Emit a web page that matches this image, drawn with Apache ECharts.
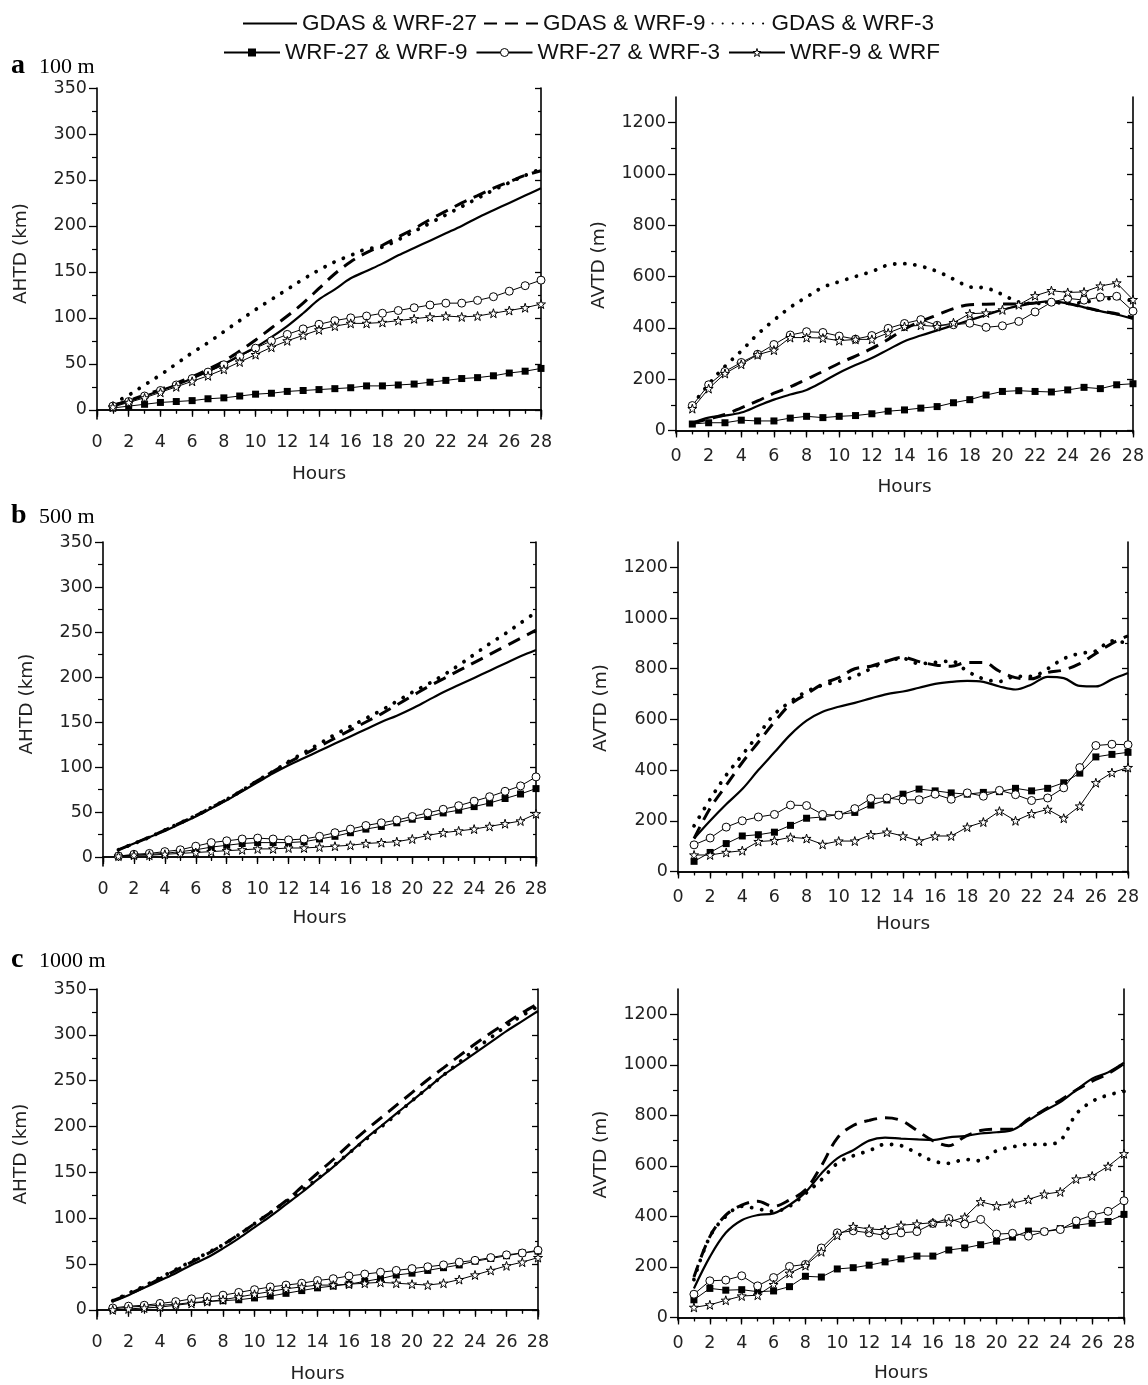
<!DOCTYPE html>
<html>
<head>
<meta charset="utf-8">
<script src="https://cdn.jsdelivr.net/npm/echarts@6/dist/echarts.min.js"></script>
<style>
    html, body {margin: 0; padding: 0; background: #fff;}
    #main {width: 1148px; height: 1385px;}
</style>
</head>
<body>
<div id="main"></div>
<script>
    const hours = [1, 2, 3, 4, 5, 6, 7, 8, 9, 10, 11, 12, 13, 14, 15, 16, 17, 18, 19, 20, 21, 22, 23, 24, 25, 26, 27, 28];
    const names = ['GDAS & WRF-27', 'GDAS & WRF-9', 'GDAS & WRF-3', 'WRF-27 & WRF-9', 'WRF-27 & WRF-3', 'WRF-9 & WRF'];

    // a 100 m - AHTD (km)
    const ahtd100_g27 = [5, 10, 15, 21, 27, 34, 42, 50, 59, 68, 79, 91, 105, 120, 131, 143, 151, 159, 168, 176, 184, 192, 200, 209, 217, 225, 233, 241];
    const ahtd100_g9 = [5, 10, 16, 22, 29, 36, 44, 53, 64, 76, 89, 102, 116, 132, 148, 161, 171, 179, 188, 197, 207, 216, 225, 233, 241, 248, 255, 260];
    const ahtd100_g3 = [7, 16, 27, 38, 50, 62, 73, 85, 97, 109, 120, 131, 142, 152, 161, 168, 175, 177, 185, 194, 203, 212, 221, 230, 239, 247, 255, 262];
    const ahtd100_w27_9 = [2, 4, 6, 8, 9, 10, 12, 13, 15, 17, 18, 20, 21, 22, 23, 24, 26, 26, 27, 28, 30, 32, 34, 35, 37, 40, 42, 45];
    const ahtd100_w27_3 = [4, 9, 15, 21, 27, 34, 41, 49, 58, 67, 75, 82, 88, 93, 97, 100, 102, 105, 108, 111, 114, 116, 116, 119, 123, 129, 135, 141];
    const ahtd100_w9 = [3, 8, 13, 19, 25, 31, 37, 44, 52, 60, 68, 75, 81, 87, 91, 94, 94, 95, 97, 99, 101, 102, 101, 102, 105, 108, 111, 115];

    // a 100 m - AVTD (m)
    const avtd100_g27 = [30, 50, 58, 70, 95, 120, 140, 158, 190, 225, 255, 282, 315, 348, 370, 390, 410, 430, 450, 470, 485, 497, 503, 495, 480, 465, 452, 435];
    const avtd100_g9 = [28, 45, 62, 88, 115, 145, 170, 200, 230, 262, 290, 320, 355, 395, 425, 450, 475, 490, 492, 493, 493, 497, 500, 495, 480, 466, 455, 440];
    const avtd100_g3 = [100, 180, 250, 310, 375, 430, 480, 520, 558, 580, 600, 620, 645, 650, 640, 620, 590, 560, 555, 530, 500, 495, 500, 495, 500, 510, 515, 505];
    const avtd100_w27_9 = [25, 30, 30, 40, 37, 37, 48, 55, 50, 55, 58, 65, 75, 80, 87, 93, 108, 120, 138, 152, 155, 152, 150, 158, 168, 163, 178, 182];
    const avtd100_w27_3 = [97, 178, 230, 265, 297, 335, 372, 385, 382, 368, 356, 370, 398, 417, 432, 410, 412, 418, 402, 408, 425, 462, 500, 515, 508, 520, 523, 465];
    const avtd100_w9 = [85, 163, 222, 258, 295, 313, 362, 362, 360, 350, 355, 355, 380, 405, 410, 405, 420, 455, 458, 470, 490, 525, 545, 538, 540, 563, 575, 510];

    // b 500 m - AHTD (km)
    const ahtd500_g27 = [8, 15, 22, 29, 37, 45, 54, 63, 73, 83, 93, 102, 110, 118, 126, 134, 142, 150, 157, 165, 174, 183, 191, 199, 207, 215, 223, 230];
    const ahtd500_g9 = [8, 15, 22, 30, 38, 46, 55, 64, 74, 85, 95, 105, 114, 123, 132, 141, 150, 159, 169, 179, 189, 198, 207, 216, 225, 234, 243, 252];
    const ahtd500_g3 = [8, 15, 22, 30, 38, 46, 55, 64, 74, 85, 95, 106, 116, 126, 136, 145, 154, 163, 173, 183, 192, 202, 213, 225, 237, 248, 260, 272];
    const ahtd500_w27_9 = [1, 2, 3, 4, 6, 8, 11, 13, 15, 16, 16, 16, 17, 20, 23, 27, 31, 34, 38, 42, 45, 49, 52, 56, 60, 65, 70, 76];
    const ahtd500_w27_3 = [1, 3, 4, 6, 8, 12, 16, 18, 20, 21, 20, 19, 20, 23, 27, 31, 35, 38, 41, 45, 49, 53, 57, 62, 67, 73, 79, 89];
    const ahtd500_w9 = [1, 2, 2, 3, 4, 5, 6, 7, 8, 9, 9, 10, 10, 11, 12, 13, 15, 16, 17, 20, 24, 27, 29, 31, 34, 37, 40, 48];

    // b 500 m - AVTD (m)
    const avtd500_g27 = [130, 200, 265, 325, 400, 470, 540, 595, 630, 650, 665, 683, 700, 710, 725, 740, 748, 752, 748, 730, 718, 738, 768, 763, 732, 730, 758, 783];
    const avtd500_g9 = [130, 250, 340, 430, 510, 590, 660, 700, 740, 765, 800, 810, 830, 845, 828, 815, 810, 825, 825, 790, 765, 760, 785, 795, 820, 860, 900, 930];
    const avtd500_g3 = [180, 285, 380, 460, 540, 620, 670, 710, 735, 750, 770, 800, 830, 840, 820, 825, 830, 790, 760, 750, 770, 770, 800, 840, 860, 870, 910, 900];
    const avtd500_w27_9 = [40, 75, 110, 140, 145, 155, 182, 210, 215, 225, 233, 262, 282, 305, 325, 318, 310, 305, 312, 315, 328, 318, 328, 350, 388, 452, 462, 470];
    const avtd500_w27_3 = [105, 132, 175, 200, 215, 225, 262, 260, 225, 222, 248, 288, 290, 282, 283, 305, 285, 310, 297, 320, 303, 280, 290, 330, 410, 497, 502, 500];
    const avtd500_w9 = [65, 65, 75, 82, 118, 122, 135, 130, 107, 120, 120, 145, 155, 140, 120, 140, 140, 175, 195, 238, 200, 228, 245, 210, 258, 350, 390, 410];

    // c 1000 m - AHTD (km)
    const ahtd1000_g27 = [9, 16, 24, 32, 40, 49, 57, 67, 78, 90, 102, 115, 128, 142, 156, 171, 186, 200, 214, 228, 242, 256, 268, 280, 292, 304, 315, 326];
    const ahtd1000_g9 = [10, 17, 25, 34, 43, 52, 61, 71, 82, 94, 106, 119, 134, 149, 164, 180, 195, 209, 223, 237, 251, 264, 277, 290, 302, 313, 324, 334];
    const ahtd1000_g3 = [10, 18, 26, 35, 44, 53, 62, 71, 82, 94, 106, 118, 130, 143, 157, 171, 185, 199, 213, 228, 242, 256, 270, 284, 297, 310, 321, 331];
    const ahtd1000_w27_9 = [1, 3, 4, 5, 6, 8, 9, 10, 11, 13, 15, 18, 21, 24, 26, 28, 31, 34, 38, 40, 43, 46, 49, 53, 56, 59, 62, 64];
    const ahtd1000_w27_3 = [2, 4, 5, 7, 9, 12, 14, 16, 19, 22, 25, 27, 29, 32, 34, 37, 39, 41, 43, 45, 47, 49, 52, 54, 57, 60, 62, 65];
    const ahtd1000_w9 = [0, 1, 2, 3, 5, 7, 9, 11, 14, 17, 20, 23, 25, 27, 27, 28, 29, 30, 29, 28, 27, 29, 33, 38, 43, 48, 52, 57];

    // c 1000 m - AVTD (m)
    const avtd1000_g27 = [115, 240, 335, 385, 405, 412, 445, 495, 570, 630, 662, 700, 712, 708, 705, 702, 713, 718, 728, 733, 742, 780, 818, 852, 900, 945, 970, 1008];
    const avtd1000_g9 = [160, 320, 405, 445, 460, 440, 465, 505, 600, 710, 760, 780, 790, 780, 740, 700, 680, 715, 740, 745, 745, 785, 822, 860, 900, 935, 965, 1005];
    const avtd1000_g3 = [150, 320, 400, 440, 430, 420, 440, 490, 545, 610, 640, 660, 685, 680, 650, 620, 610, 625, 620, 660, 675, 685, 685, 700, 805, 855, 880, 895];
    const avtd1000_w27_9 = [70, 115, 108, 110, 102, 105, 122, 163, 160, 192, 197, 207, 220, 232, 243, 243, 267, 275, 288, 302, 318, 342, 340, 352, 365, 373, 380, 408];
    const avtd1000_w27_3 = [92, 145, 148, 165, 125, 158, 202, 210, 275, 335, 343, 335, 325, 335, 340, 372, 392, 370, 388, 330, 333, 322, 340, 348, 382, 405, 420, 462];
    const avtd1000_w9 = [40, 50, 68, 85, 88, 130, 175, 205, 260, 325, 360, 350, 347, 365, 370, 375, 378, 397, 458, 442, 452, 467, 488, 497, 548, 560, 598, 648];

    const ahtdTicks = [0, 50, 100, 150, 200, 250, 300, 350];
    const ahtdMinor = [25, 75, 125, 175, 225, 275, 325];
    const avtdTicks = [0, 200, 400, 600, 800, 1000, 1200];
    const avtdMinor = [100, 300, 500, 700, 900, 1100];

    const SANS = 'Liberation Sans, Arial, sans-serif';
    const WIDE = 'DejaVu Sans, Verdana, sans-serif';
    const SERIF = 'Liberation Serif, Times New Roman, serif';
    const INK = '#111';
    const STAR = 'path://M50,2 L61,36 L97,36 L68,57 L79,92 L50,71 L21,92 L32,57 L3,36 L39,36 Z';

    // 每个面板的布局
    const panels = [
        {grid: {left: 97, top: 88, width: 444, height: 331}, min: -10, max: 350, ticks: ahtdTicks, minor: ahtdMinor, yName: 'AHTD (km)', yGap: 66, xGap: 46,
            sets: [ahtd100_g27, ahtd100_g9, ahtd100_g3, ahtd100_w27_9, ahtd100_w27_3, ahtd100_w9]},
        {grid: {left: 676, top: 97, width: 457, height: 336}, min: -10, max: 1300, ticks: avtdTicks, minor: avtdMinor, yName: 'AVTD (m)', yGap: 67, xGap: 45,
            sets: [avtd100_g27, avtd100_g9, avtd100_g3, avtd100_w27_9, avtd100_w27_3, avtd100_w9]},
        {grid: {left: 103, top: 542, width: 433, height: 324}, min: -10, max: 350, ticks: ahtdTicks, minor: ahtdMinor, yName: 'AHTD (km)', yGap: 66, xGap: 43,
            sets: [ahtd500_g27, ahtd500_g9, ahtd500_g3, ahtd500_w27_9, ahtd500_w27_3, ahtd500_w9]},
        {grid: {left: 678, top: 542, width: 450, height: 332}, min: -10, max: 1300, ticks: avtdTicks, minor: avtdMinor, yName: 'AVTD (m)', yGap: 67, xGap: 41,
            sets: [avtd500_g27, avtd500_g9, avtd500_g3, avtd500_w27_9, avtd500_w27_3, avtd500_w9]},
        {grid: {left: 97, top: 989, width: 441, height: 331}, min: -10, max: 350, ticks: ahtdTicks, minor: ahtdMinor, yName: 'AHTD (km)', yGap: 66, xGap: 46,
            sets: [ahtd1000_g27, ahtd1000_g9, ahtd1000_g3, ahtd1000_w27_9, ahtd1000_w27_3, ahtd1000_w9]},
        {grid: {left: 678, top: 989, width: 446, height: 331}, min: -10, max: 1300, ticks: avtdTicks, minor: avtdMinor, yName: 'AVTD (m)', yGap: 67, xGap: 44,
            sets: [avtd1000_g27, avtd1000_g9, avtd1000_g3, avtd1000_w27_9, avtd1000_w27_3, avtd1000_w9]}
    ];

    const looks = [
        {lineStyle: {type: 'solid', width: 2.2}, symbol: 'none', smooth: 0.35},
        {lineStyle: {type: [13, 8], width: 3}, symbol: 'none', smooth: 0.35},
        {lineStyle: {type: [0.1, 10], width: 3.8, cap: 'round'}, symbol: 'none', smooth: 0.35},
        {lineStyle: {type: 'solid', width: 1}, symbol: 'rect', symbolSize: 7, itemStyle: {color: '#000'}},
        {lineStyle: {type: 'solid', width: 1}, symbol: 'circle', symbolSize: 8, itemStyle: {color: '#fff', borderColor: '#000', borderWidth: 1}},
        {lineStyle: {type: 'solid', width: 1}, symbol: STAR, symbolSize: 9, itemStyle: {color: '#fff', borderColor: '#000', borderWidth: 1}}
    ];

    const grid = [], xAxis = [], yAxis = [], series = [];
    const lineBase = {show: true, lineStyle: {color: '#000', width: 1.6}};
    const labelBase = {color: '#222', fontFamily: WIDE, fontSize: 17.5, formatter: v => String(v)};
    const nameBase = {color: '#222', fontFamily: WIDE, fontSize: 18.5};

    panels.forEach((p, i) => {
        grid.push(p.grid);
        // 底部 x 轴（刻度朝外）
        xAxis.push({
            gridIndex: i, type: 'value', min: 0, max: 28, interval: 2, position: 'bottom',
            axisLine: lineBase, splitLine: {show: false},
            axisTick: {inside: false, length: 7, lineStyle: {color: '#000', width: 1.3}},
            minorTick: {show: true, splitNumber: 2, length: 4, lineStyle: {color: '#000', width: 1.2}},
            axisLabel: Object.assign({margin: 14, showMinLabel: true, showMaxLabel: true}, labelBase),
            name: 'Hours', nameLocation: 'middle', nameGap: p.xGap, nameTextStyle: nameBase
        });
        // 顶部 x 轴（刻度朝内）
        xAxis.push({
            gridIndex: i, type: 'value', min: 0, max: 28, interval: 2, position: 'top',
            axisLine: lineBase, splitLine: {show: false}, axisLabel: {show: false},
            axisTick: {inside: true, length: 5, lineStyle: {color: '#000', width: 1.3}},
            minorTick: {show: true, splitNumber: 2, length: 3, lineStyle: {color: '#000', width: 1.2}}
        });
        const yCommon = {gridIndex: i, type: 'value', min: p.min, max: p.max, splitLine: {show: false}};
        yAxis.push(Object.assign({}, yCommon, {
            position: 'left', axisLine: lineBase,
            axisTick: {inside: false, length: 8, customValues: p.ticks, lineStyle: {color: '#000', width: 1.3}},
            axisLabel: Object.assign({margin: 10, customValues: p.ticks}, labelBase),
            name: p.yName, nameLocation: 'middle', nameGap: p.yGap, nameRotate: 90, nameTextStyle: nameBase
        }));
        yAxis.push(Object.assign({}, yCommon, {
            position: 'left', axisLine: {show: false}, axisLabel: {show: false},
            axisTick: {inside: false, length: 5, customValues: p.minor, lineStyle: {color: '#000', width: 1.2}}
        }));
        yAxis.push(Object.assign({}, yCommon, {
            position: 'right', axisLine: lineBase, axisLabel: {show: false},
            axisTick: {inside: true, length: 6, customValues: p.ticks, lineStyle: {color: '#000', width: 1.3}}
        }));
        yAxis.push(Object.assign({}, yCommon, {
            position: 'right', axisLine: {show: false}, axisLabel: {show: false},
            axisTick: {inside: true, length: 3, customValues: p.minor, lineStyle: {color: '#000', width: 1.2}}
        }));

        p.sets.forEach((vals, k) => {
            const lk = looks[k];
            series.push({
                name: names[k], type: 'line', xAxisIndex: i * 2, yAxisIndex: i * 4,
                data: hours.map((h, j) => [h, vals[j]]),
                symbol: lk.symbol, symbolSize: lk.symbolSize, showSymbol: lk.symbol !== 'none',
                smooth: lk.smooth || false, clip: true, silent: true, animation: false,
                lineStyle: Object.assign({color: '#000'}, lk.lineStyle),
                itemStyle: lk.itemStyle || {color: '#000'},
                z: k >= 3 ? 3 : 2
            });
        });
    });

    const legendText = {color: INK, fontFamily: SANS, fontSize: 22.5};
    // 图例：前三项只画线，不画标记
    const hidden = {color: 'rgba(0,0,0,0)', borderWidth: 0, opacity: 0};
    const legendRow1 = names.slice(0, 3).map(n => ({name: n, itemStyle: hidden}));
    const legendRow2 = [
        {name: names[3], itemStyle: {color: '#000', borderWidth: 0}},
        {name: names[4], itemStyle: {color: '#fff', borderColor: '#000', borderWidth: 1}},
        {name: names[5], itemStyle: {color: '#fff', borderColor: '#000', borderWidth: 1}}
    ];

    const chart = echarts.init(document.getElementById('main'));
    chart.setOption({
        backgroundColor: '#fff',
        animation: false,
        legend: [
            {data: legendRow1, top: 7, left: 237, itemWidth: 54, itemHeight: 9, itemGap: 6, textStyle: legendText, selectedMode: false},
            {data: legendRow2, top: 36, left: 218, itemWidth: 56, itemHeight: 10, itemGap: 8, textStyle: legendText, selectedMode: false}
        ],
        graphic: [
            {type: 'text', left: 11, top: 52, style: {text: 'a', font: 'bold 28px ' + SERIF, fill: '#000'}},
            {type: 'text', left: 39, top: 56, style: {text: '100 m', font: '22px ' + SERIF, fill: '#000'}},
            {type: 'text', left: 11, top: 502, style: {text: 'b', font: 'bold 28px ' + SERIF, fill: '#000'}},
            {type: 'text', left: 39, top: 506, style: {text: '500 m', font: '22px ' + SERIF, fill: '#000'}},
            {type: 'text', left: 11, top: 946, style: {text: 'c', font: 'bold 28px ' + SERIF, fill: '#000'}},
            {type: 'text', left: 39, top: 950, style: {text: '1000 m', font: '22px ' + SERIF, fill: '#000'}}
        ],
        grid: grid,
        xAxis: xAxis,
        yAxis: yAxis,
        series: series
    });
</script>
</body>
</html>
